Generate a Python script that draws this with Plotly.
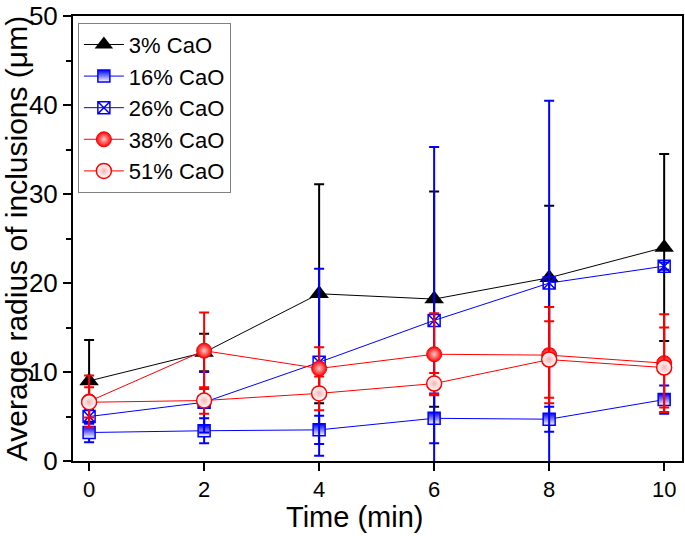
import plotly.graph_objects as go

time = [0, 2, 4, 6, 8, 10]

names = ["3% CaO", "16% CaO", "26% CaO", "38% CaO", "51% CaO"]

cao3 = [9.0, 12.2, 18.8, 18.2, 20.6, 24.0]
cao3_err = [4.6, 2.1, 12.3, 12.1, 8.1, 10.5]

cao16 = [3.2, 3.4, 3.5, 4.8, 4.7, 6.9]
cao16_err = [1.1, 1.4, 1.6, 2.8, 1.4, 1.6]

cao26 = [5.0, 6.6, 11.1, 15.8, 20.0, 21.9]
cao26_err = [0.8, 3.4, 10.5, 19.5, 20.5, 0.4]

cao38 = [6.7, 12.4, 10.4, 12.0, 11.9, 11.0]
cao38_err = [2.9, 4.3, 2.4, 4.6, 5.4, 5.5]

cao51 = [6.6, 6.8, 7.6, 8.7, 11.4, 10.5]
cao51_err = [1.7, 1.5, 1.9, 1.2, 4.3, 4.5]

x_ticks = [0, 2, 4, 6, 8, 10]
y_ticks = [0, 10, 20, 30, 40, 50]

x_title = "Time (min)"
y_title = "Average radius of inclusions (μm)"

FONT = "Liberation Sans, Arial, sans-serif"

fig = go.Figure()

def add(name, y, err, color, marker):
    fig.add_trace(go.Scatter(
        x=time, y=y, name=name, mode="lines+markers",
        line=dict(color=color, width=1),
        marker=marker,
        error_y=dict(type="data", array=err, visible=True,
                     color=color, thickness=2, width=5),
    ))

add(names[0], cao3, cao3_err, "black",
    dict(symbol="triangle-up", size=17, color="black"))
add(names[1], cao16, cao16_err, "blue",
    dict(symbol="square", size=12, color="blue",
         gradient=dict(type="vertical", color="white"),
         line=dict(color="blue", width=1.5)))
add(names[2], cao26, cao26_err, "blue",
    dict(symbol="square-x-open", size=12, color="blue",
         line=dict(color="blue", width=1.5)))
add(names[3], cao38, cao38_err, "red",
    dict(symbol="circle", size=15, color="red",
         gradient=dict(type="radial", color="#ffc8c8"),
         line=dict(color="red", width=1)))
add(names[4], cao51, cao51_err, "red",
    dict(symbol="circle", size=15, color="white",
         gradient=dict(type="radial", color="#f4b4b4"),
         line=dict(color="red", width=1.5)))

fig.update_layout(
    width=685, height=536,
    margin=dict(l=73, r=1, t=9, b=75),
    paper_bgcolor="white", plot_bgcolor="white",
    font=dict(family=FONT, color="black", size=22),
    showlegend=True,
    legend=dict(x=0.008, y=0.985, xanchor="left", yanchor="top",
                bgcolor="white", bordercolor="#808080", borderwidth=1,
                font=dict(size=22, family=FONT), tracegroupgap=0,
                itemwidth=40),
    xaxis=dict(range=[-0.28, 10.31], tickvals=x_ticks,
               showgrid=False, zeroline=False,
               showline=True, linecolor="black", linewidth=2, mirror=True,
               ticks="outside", ticklen=8, tickwidth=2, tickcolor="black",
               ticklabeloverflow="allow",
               tickfont=dict(size=22, family=FONT)),
    yaxis=dict(range=[0, 50.02], tickvals=y_ticks,
               showgrid=False, zeroline=False,
               showline=True, linecolor="black", linewidth=2, mirror=True,
               ticks="outside", ticklen=8, tickwidth=2, tickcolor="black",
               ticklabeloverflow="allow",
               tickfont=dict(size=26, family=FONT),
               minor=dict(dtick=5, ticks="outside", ticklen=5, tickwidth=2, tickcolor="black"),
               title=dict(text=y_title, font=dict(size=30, family=FONT), standoff=3)),
    annotations=[dict(text=x_title, xref="paper", yref="paper",
                      x=0.4615, y=-0.126, xanchor="center", yanchor="middle",
                      showarrow=False, borderpad=0,
                      font=dict(size=29, family=FONT))],
)

fig.write_html("out.html", config={"displayModeBar": False},
               post_script="document.body.style.margin='0';")
